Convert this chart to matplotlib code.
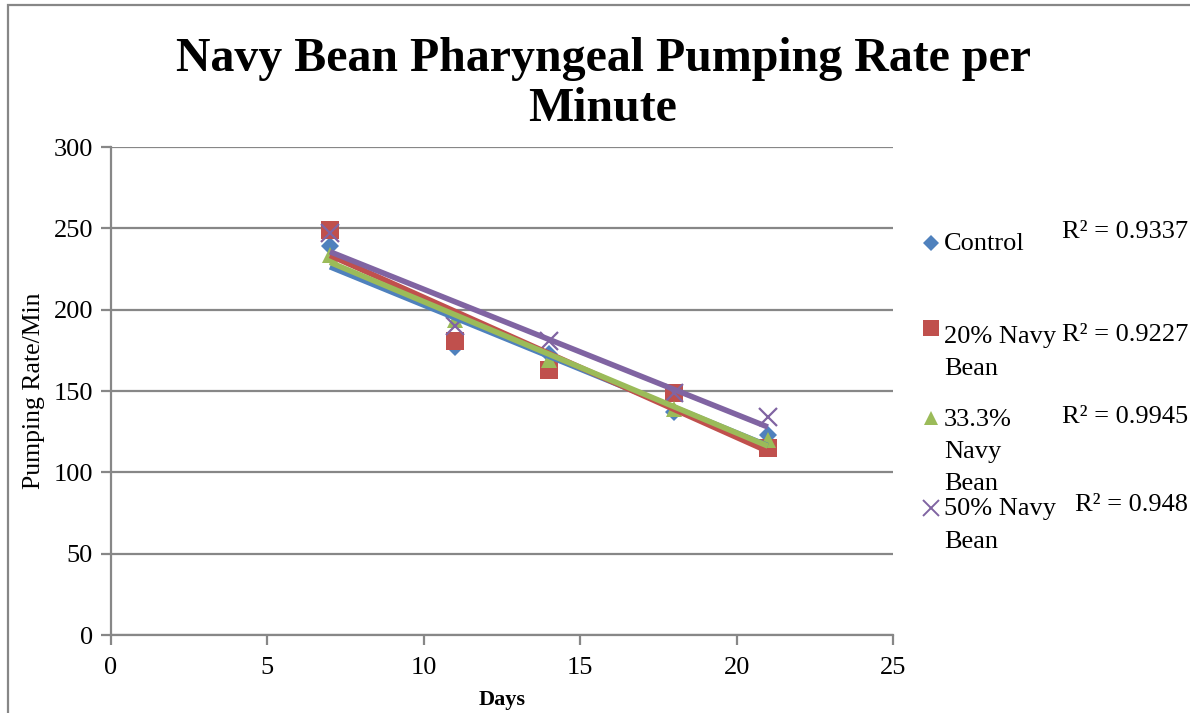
import numpy as np
import matplotlib
matplotlib.use("Agg")
import matplotlib.pyplot as plt
from matplotlib.lines import Line2D
from matplotlib.patches import Rectangle

plt.rcParams['font.family'] = ['Liberation Serif', 'DejaVu Serif']

days = [7, 11, 14, 18, 21]
control = [239, 177, 173, 137, 123]
navy20 = [249, 181, 163, 149, 115]
navy33 = [233.6, 193.5, 169, 139, 120]
navy50 = [247, 190, 181, 149, 134]

series_names = ["Control", "20% Navy\nBean", "33.3%\nNavy\nBean", "50% Navy\nBean"]
r2_labels = ["R\u00b2 = 0.9337", "R\u00b2 = 0.9227", "R\u00b2 = 0.9945", "R\u00b2 = 0.948"]
colors = ["#4F81BD", "#C0504D", "#9BBB59", "#8064A2"]
markers = ["D", "s", "^", "x"]
msizes = [9, 13, 12, 13]
yticks = [0, 50, 100, 150, 200, 250, 300]
xticks = [0, 5, 10, 15, 20, 25]

W, H = 1190, 713
fig = plt.figure(figsize=(W / 100, H / 100), dpi=100)
ax = fig.add_axes([111 / W, 1 - 635 / H, (893 - 111) / W, (635 - 147) / H])

data = [control, navy20, navy33, navy50]
for vals, c, m, ms in zip(data, colors, markers, msizes):
    ax.plot(days, vals, linestyle="none", marker=m, markersize=ms, color=c,
            markeredgewidth=1.6 if m == "x" else 0, zorder=3, clip_on=False)

for vals, c in zip(data, colors):
    k, b = np.polyfit(days, vals, 1)
    xs = np.array([days[0], days[-1]])
    ax.plot(xs, k * xs + b, color=c, linewidth=4, solid_capstyle="butt", zorder=4)

ax.set_xlim(0, 25)
ax.set_ylim(0, 300)
ax.set_xticks(xticks)
ax.set_yticks(yticks)
ax.yaxis.grid(True, color="#878787", linewidth=1.6)
ax.set_axisbelow(True)
for s in ["top", "right"]:
    ax.spines[s].set_visible(False)
for s in ["left", "bottom"]:
    ax.spines[s].set_color("#878787")
    ax.spines[s].set_linewidth(1.6)
ax.tick_params(direction="out", length=7, width=1.6, color="#878787",
               labelsize=19, pad=6)
ax.tick_params(axis="x", pad=9)
ax.set_xlabel("Days", fontsize=16, fontweight="bold", labelpad=8)
ax.set_ylabel("Pumping Rate/Min", fontsize=18.5, labelpad=6)

fig.text(603 / W, 1 - 84 / H, "Navy Bean Pharyngeal Pumping Rate per\nMinute",
         ha="center", va="center", fontsize=34.5, fontweight="bold", linespacing=1.17)

# legend (manual)
leg_marker_y = [243, 328, 418, 508]
leg_text_y = [243, 335, 418, 508]
for y_m, y_t, name, c, m, ms in zip(leg_marker_y, leg_text_y, series_names, colors, markers, msizes):
    mk = Line2D([931 / W], [1 - y_m / H], transform=fig.transFigure, marker=m,
                markersize=ms * 0.85, color=c, linestyle="none",
                markeredgewidth=1.4 if m == "x" else 0)
    fig.add_artist(mk)
    fig.text(944 / W, 1 - (y_t - 9.5) / H, name, ha="left", va="top",
             fontsize=19, linespacing=1.6)

r2_y = [232, 335, 417, 505]
for y, t in zip(r2_y, r2_labels):
    fig.text(1188 / W, 1 - y / H, t, ha="right", va="center", fontsize=19)

fig.add_artist(Rectangle((8 / W, -0.1), 1.2, 1.1 - 5 / H, transform=fig.transFigure,
                         fill=False, edgecolor="#878787", linewidth=1.6))

fig.savefig("out.png", dpi=100)
